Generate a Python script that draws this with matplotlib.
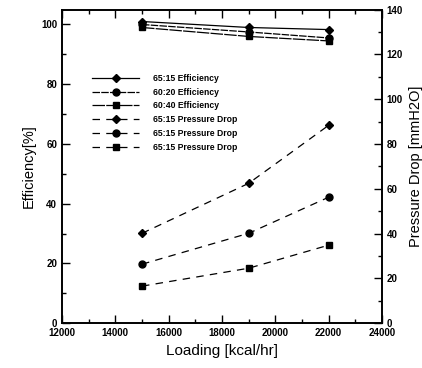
import matplotlib
matplotlib.use('Agg')
import matplotlib.pyplot as plt
from matplotlib.ticker import MultipleLocator

plt.rcParams['font.family'] = ['Liberation Sans', 'DejaVu Sans']

loading = [15000, 19000, 22000]

eff_6515 = [101.0, 99.0, 98.3]
eff_6020 = [100.0, 97.5, 95.5]
eff_6040 = [99.0, 96.0, 94.5]

dp_6515 = [40.1, 62.4, 88.3]
dp_6020 = [26.3, 40.1, 56.2]
dp_6040 = [16.5, 24.5, 34.8]

labels = ['65:15 Efficiency', '60:20 Efficiency', '60:40 Efficiency',
          '65:15 Pressure Drop', '65:15 Pressure Drop', '65:15 Pressure Drop']

fig = plt.figure(figsize=(4.22, 3.68), dpi=100)
ax = fig.add_axes([0.147, 0.122, 0.758, 0.852])
ax2 = ax.twinx()

h1, = ax.plot(loading, eff_6515, '-', color='black', lw=0.9, marker='D', ms=4)
h2, = ax.plot(loading, eff_6020, color='black', lw=0.9, marker='o', ms=5, dashes=(6, 1))
h3, = ax.plot(loading, eff_6040, color='black', lw=0.9, marker='s', ms=5, dashes=(10, 1))

h4, = ax2.plot(loading, dp_6515, color='black', lw=0.9, marker='D', ms=4, dashes=(6, 5))
h5, = ax2.plot(loading, dp_6020, color='black', lw=0.9, marker='o', ms=5, dashes=(6, 5))
h6, = ax2.plot(loading, dp_6040, color='black', lw=0.9, marker='s', ms=5, dashes=(6, 5))

ax.set_xlim(12000, 24000)
ax.set_ylim(0, 105)
ax2.set_ylim(0, 140)

ax.xaxis.set_major_locator(MultipleLocator(2000))
ax.xaxis.set_minor_locator(MultipleLocator(1000))
ax.yaxis.set_major_locator(MultipleLocator(20))
ax.yaxis.set_minor_locator(MultipleLocator(10))
ax2.yaxis.set_major_locator(MultipleLocator(20))
ax2.yaxis.set_minor_locator(MultipleLocator(10))

for a in (ax, ax2):
    a.tick_params(which='both', direction='in', labelsize=7, width=1)
    a.tick_params(which='major', length=6)
    a.tick_params(which='minor', length=3)
    for s in a.spines.values():
        s.set_linewidth(1.2)
ax.tick_params(axis='x', which='both', top=True)

for t in ax.get_xticklabels() + ax.get_yticklabels() + ax2.get_yticklabels():
    t.set_fontweight('bold')

ax.set_xlabel('Loading [kcal/hr]', fontsize=11)
ax.set_ylabel('Efficiency[%]', fontsize=10.5)
ax2.set_ylabel('Pressure Drop [mmH2O]', fontsize=10.5)

leg = ax.legend([h1, h2, h3, h4, h5, h6], labels, loc='upper left',
                bbox_to_anchor=(0.094, 0.795), frameon=False,
                prop={'size': 6.2, 'weight': 'bold'},
                handlelength=5.5, numpoints=1, labelspacing=0.55,
                handletextpad=1.6, borderpad=0, borderaxespad=0)

fig.savefig('out.png', dpi=100)
